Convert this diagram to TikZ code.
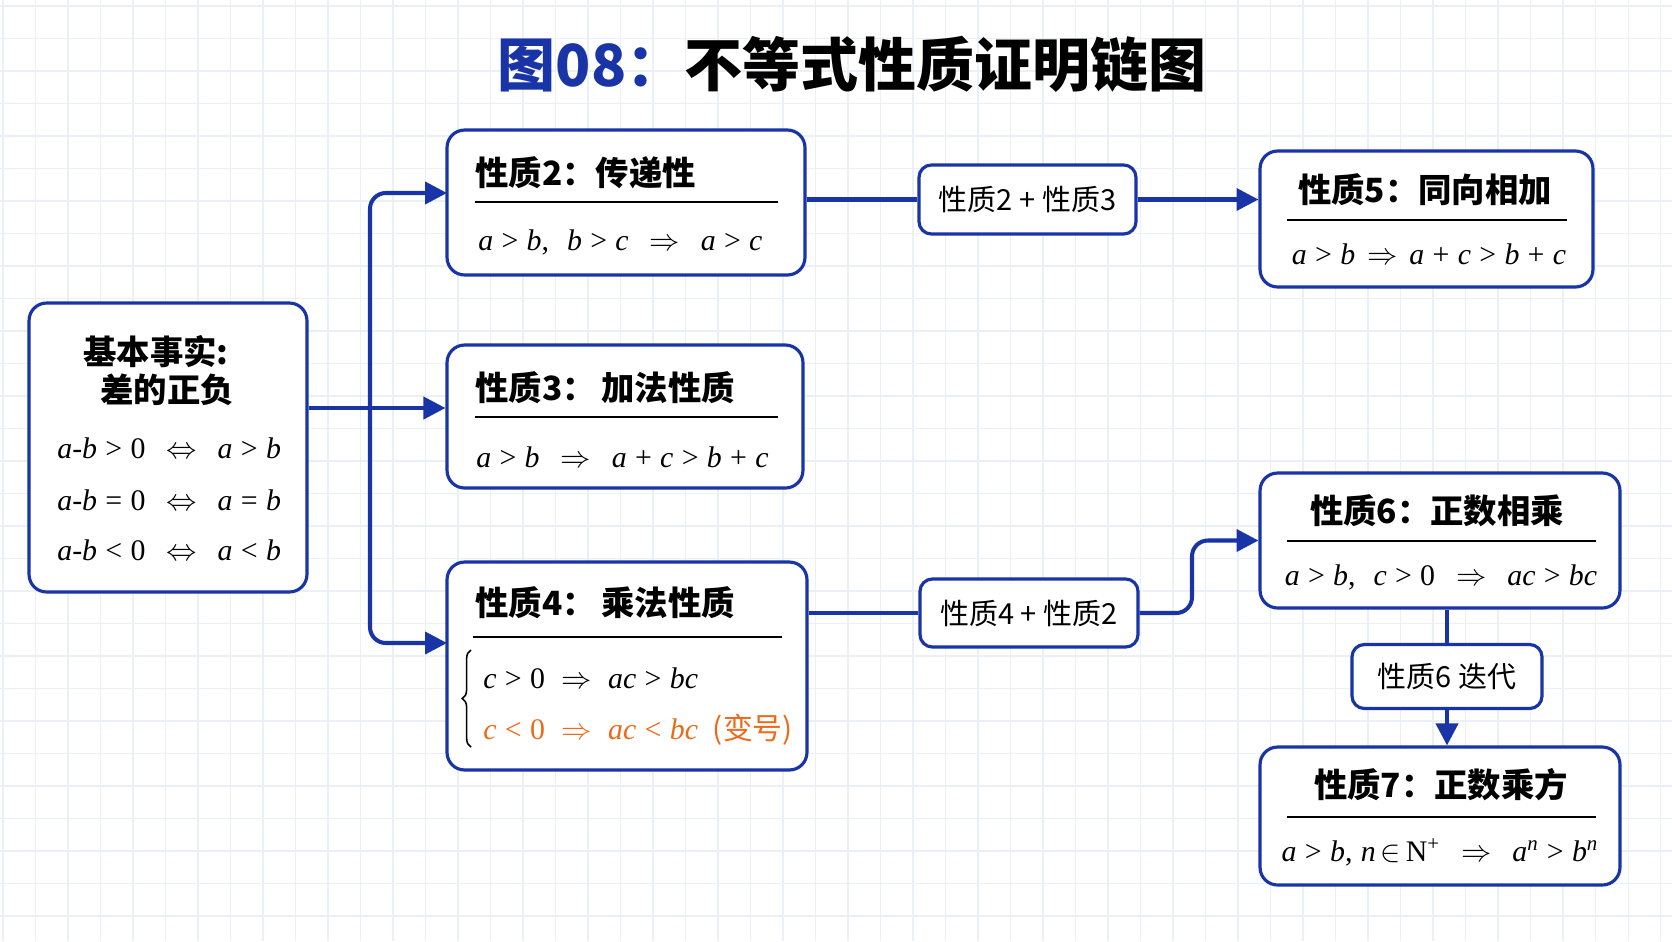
\documentclass[tikz,border=0pt]{standalone}
\usepackage{fontspec}
\usetikzlibrary{arrows.meta, positioning, calc, decorations.pathreplacing}
\newfontfamily\cjk{Noto Sans CJK SC}
\newfontfamily\tms{Liberation Serif}
\newcommand\vi[1]{\textit{#1}}
\newcommand\impl{\hspace{0.7em}$\Rightarrow$\hspace{0.7em}}
\newcommand\eqvl{\hspace{0.7em}$\Leftrightarrow$\hspace{0.7em}}
\definecolor{chainBlue}{HTML}{1834A6}
\definecolor{signOrange}{HTML}{EE6A1A}
\definecolor{gridGrey}{HTML}{EBF0F7}
\tikzset{
  link/.style     = {chainBlue, line width=2.3pt},
  flow/.style     = {-{Triangle[length=12.5pt,width=12.5pt]}, chainBlue, line width=2.3pt},
  propbox/.style  = {draw=chainBlue, line width=1.8pt, rounded corners=10pt, fill=white, inner sep=0pt},
  tagbox/.style   = {draw=chainBlue, line width=1.8pt, rounded corners=7pt, fill=white, inner sep=0pt,
                     font=\cjk\fontsize{16.5}{18}\selectfont},
  ttl/.style      = {font=\cjk\bfseries\fontsize{19}{22}\selectfont, inner sep=0pt},
  mth/.style      = {font=\tms\fontsize{17}{20}\selectfont, inner sep=0pt},
  hrule/.style    = {black, line width=1.1pt},
}

\begin{document}
\begin{tikzpicture}[x=0.02cm, y=-0.02cm]
  \useasboundingbox (0,0) rectangle (1672,941);
  \fill[white] (0,0) rectangle (1672,941);
  % faint grid
  \foreach \gx in {3,35.5,...,1672} \draw[gridGrey, line width=0.6pt] (\gx,0) -- (\gx,941);
  \foreach \gy in {6,38.5,...,941} \draw[gridGrey, line width=0.6pt] (0,\gy) -- (1672,\gy);

  \node[font=\cjk\bfseries\fontsize{33}{38}\selectfont, inner sep=0pt] (title) at (852,64)
    {\textcolor{chainBlue}{图08：}不等式性质证明链图};

  % boxes
  \node[propbox, minimum width=5.56cm, minimum height=5.78cm] (basic) at (168,447.5) {};
  \node[propbox, minimum width=7.16cm, minimum height=2.90cm] (p2) at (626,202.5) {};
  \node[propbox, minimum width=7.12cm, minimum height=2.86cm] (p3) at (625,416.5) {};
  \node[propbox, minimum width=7.20cm, minimum height=4.16cm] (p4) at (627,666) {};
  \node[propbox, minimum width=6.66cm, minimum height=2.72cm] (p5) at (1426.5,219) {};
  \node[propbox, minimum width=7.20cm, minimum height=2.70cm] (p6) at (1440,540.5) {};
  \node[propbox, minimum width=7.20cm, minimum height=2.76cm] (p7) at (1440,816) {};

  \node[tagbox, minimum width=4.34cm, minimum height=1.38cm] (lab23) at (1027.5,199.5) {性质2 + 性质3};
  \node[tagbox, minimum width=4.36cm, minimum height=1.36cm] (lab42) at (1029,613) {性质4 + 性质2};
  \node[tagbox, minimum width=3.80cm, minimum height=1.28cm] (lab66) at (1447,676.5) {性质6 迭代};

  % basic fact
  \node[ttl] (bt1) at (156,352) {基本事实:};
  \node[ttl] (bt2) at (167,390) {差的正负};
  \node[mth, anchor=west] (bm1) at (57,448) {\vi{a}-\vi{b}\;>\;0\eqvl\vi{a}\;>\;\vi{b}};
  \node[mth, anchor=west] (bm2) at (57,500) {\vi{a}-\vi{b}\;=\;0\eqvl\vi{a}\;=\;\vi{b}};
  \node[mth, anchor=west] (bm3) at (57,550) {\vi{a}-\vi{b}\;<\;0\eqvl\vi{a}\;<\;\vi{b}};

  % property 2
  \node[ttl, anchor=west] (p2t) at (475,173) {性质2：传递性};
  \draw[hrule] (475,202) -- (778,202);
  \node[mth, anchor=west] (p2m) at (478,242)
    {\vi{a}\;>\;\vi{b},\hspace{0.6em}\vi{b}\;>\;\vi{c}\impl\vi{a}\;>\;\vi{c}};

  % property 3
  \node[ttl, anchor=west] (p3t) at (475,388) {性质3：\,加法性质};
  \draw[hrule] (475,417) -- (778,417);
  \node[mth, anchor=west] (p3m) at (476,457)
    {\vi{a}\;>\;\vi{b}\impl\vi{a}\;+\;\vi{c}\;>\;\vi{b}\;+\;\vi{c}};

  % property 4
  \node[ttl, anchor=west] (p4t) at (475,603) {性质4：\,乘法性质};
  \draw[hrule] (473,637) -- (782,637);
  \draw[decorate, decoration={brace, amplitude=5pt}, line width=0.9pt] (471,747) -- (471,650);
  \node[mth, anchor=west] (p4m1) at (483,678)
    {\vi{c}\;>\;0\hspace{0.55em}$\Rightarrow$\hspace{0.55em}\vi{ac}\;>\;\vi{bc}};
  \node[mth, anchor=west, signOrange] (p4m2) at (483,730)
    {\vi{c}\;<\;0\hspace{0.55em}$\Rightarrow$\hspace{0.55em}\vi{ac}\;<\;\vi{bc}\hspace{0.5em}{\cjk (变号)}};

  % property 5
  \node[ttl] (p5t) at (1425,190) {性质5：同向相加};
  \draw[hrule] (1287,220) -- (1567,220);
  \node[mth] (p5m) at (1429,254)
    {\vi{a}\;>\;\vi{b}\hspace{0.4em}$\Rightarrow$\hspace{0.4em}\vi{a}\;+\;\vi{c}\;>\;\vi{b}\;+\;\vi{c}};

  % property 6
  \node[ttl] (p6t) at (1437,511) {性质6：正数相乘};
  \draw[hrule] (1287,541) -- (1596,541);
  \node[mth] (p6m) at (1441,577)
    {\vi{a}\;>\;\vi{b},\hspace{0.6em}\vi{c}\;>\;0\impl\vi{ac}\;>\;\vi{bc}};

  % property 7
  \node[ttl] (p7t) at (1441,785) {性质7：正数乘方};
  \draw[hrule] (1287,817) -- (1596,817);
  \node[mth] (p7m) at (1440,852)
    {\vi{a}\;>\;\vi{b},\;\vi{n}\,$\in$\,N\textsuperscript{+}\impl\vi{a}\textsuperscript{\vi{n}}\;>\;\vi{b}\textsuperscript{\vi{n}}};

  % connectors
  \coordinate (trunk) at (370,408);
  \coordinate (j2) at (447,193);
  \coordinate (j4) at (447,643);
  \coordinate (elb) at (1192,613);
  \draw[link] (basic.east |- trunk) -- (trunk);
  \draw[flow] (trunk) -- (p3.west |- trunk);
  \draw[flow, rounded corners=9pt] (trunk) |- (j2);
  \draw[flow, rounded corners=9pt] (trunk) |- (j4);

  \draw[link] (p2.east |- lab23) -- (lab23.west);
  \draw[flow] (lab23.east) -- (p5.west |- lab23);

  \draw[link] (p4.east |- lab42) -- (lab42.west);
  \draw[flow, rounded corners=9pt] (lab42.east) -- (elb) |- (p6.west);

  \draw[link] (lab66.north |- p6.south) -- (lab66.north);
  \draw[flow] (lab66.south) -- (lab66.south |- p7.north);
\end{tikzpicture}
\end{document}
